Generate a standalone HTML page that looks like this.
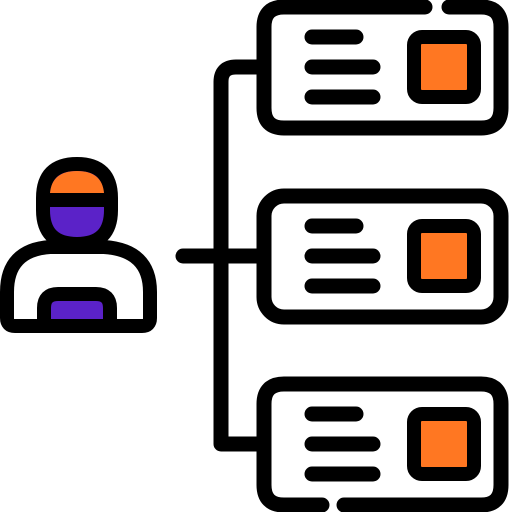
<!DOCTYPE html>
<html><head><style>html,body{margin:0;padding:0;background:#fff}svg{display:block}</style></head>
<body>
<svg width="512" height="512" viewBox="0 0 512 512" xmlns="http://www.w3.org/2000/svg">
<g fill="none" stroke="#000" stroke-width="15" stroke-linecap="round" stroke-linejoin="round">
<path d="M264 67 H236 Q221 67 221 82 V444 H264"/>
<path d="M183 256 H264"/>
<path d="M425 7 H284 Q264 7 264 27 V108 Q264 128 284 128 H481 Q501 128 501 108 V27 Q501 7 481 7 H449"/>
<rect x="264" y="196" width="237" height="121" rx="20"/>
<path d="M322 505 H284 Q264 505 264 485 V404 Q264 384 284 384 H481 Q501 384 501 404 V485 Q501 505 481 505 H344"/>
<path d="M312 37 H356 M312 67 H373 M312 97 H373"/>
<path d="M312 226 H356 M312 256 H373 M312 286 H373"/>
<path d="M312 414 H356 M312 444 H373 M312 474 H373"/>
</g>
<g stroke="#000" stroke-width="14" fill="#ff7722">
<rect x="414" y="37" width="60" height="60" rx="8"/>
<rect x="414" y="226" width="60" height="60" rx="8"/>
<rect x="414" y="414" width="60" height="60" rx="8"/>
</g>
<!-- person body -->
<path d="M7 318 V292 Q7 250 50 247 H104 Q150 250 150 292 V318 Q150 326 142 326 H15 Q7 326 7 318 Z" fill="#fff" stroke="#000" stroke-width="14" stroke-linejoin="round"/>
<!-- head -->
<path d="M43 198 Q43 164 77 164 Q111 164 111 198 V210 Q111 244 77 244 Q43 244 43 210 Z" fill="#5b22c8" stroke="#000" stroke-width="14"/>
<path d="M50 193 Q52 171 77 171 Q102 171 104 193 Z" fill="#ff7722"/>
<path d="M43 200 H111" stroke="#000" stroke-width="14"/>
<!-- laptop -->
<path d="M44 326 V308 Q44 294 58 294 H96 Q110 294 110 308 V326 Z" fill="#5b22c8" stroke="#000" stroke-width="14" stroke-linejoin="round"/>
</svg>
</body></html>
